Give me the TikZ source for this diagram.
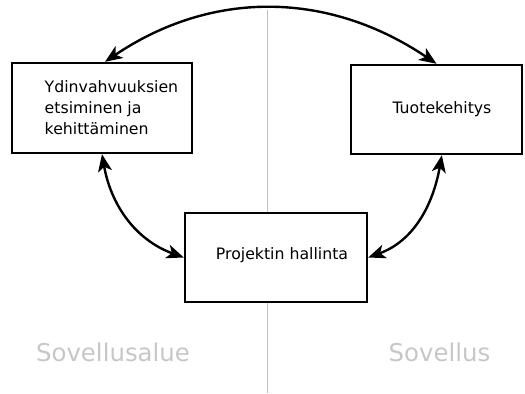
\documentclass[tikz,border=0pt]{standalone}
\usepackage{fontspec}
\setmainfont{DejaVu Sans}
\usetikzlibrary{arrows.meta}

\begin{document}
\begin{tikzpicture}[>={Stealth[length=13pt, width=10.5pt, inset=3.5pt]}, x=0.75pt, y=0.75pt,
  box/.style={draw, fill=white, line width=1.8pt, inner sep=0pt},
  link/.style={<->, line width=1.8pt},
  area/.style={text=black!22, font=\fontsize{18.3}{22}\selectfont}]
\fontsize{11.8}{15.8}\selectfont
\useasboundingbox (0,0) rectangle (525,393);
\draw[black!25, line width=0.75pt] (267,383) -- (267,0);
\node[box, minimum width=135pt, minimum height=67.5pt,
  label={[xshift=7.1pt, align=left]center:Ydinvahvuuksien\\etsiminen ja\\kehittäminen}]
  at (102,285) (YK) {};
\node[box, minimum width=128.25pt, minimum height=66.75pt,
  label={[xshift=4.1pt]center:Tuotekehitys}]
  at (436.5,283.5) (TK) {};
\node[box, minimum width=136.5pt, minimum height=66.75pt,
  label={[xshift=4.5pt, yshift=1.9pt]center:Projektin hallinta}]
  at (276,135.5) (PH) {};
\node[area] at (113,41) (SA) {Sovellusalue};
\node[area] at (439.5,41) (SO) {Sovellus};
\path ([xshift=2.25pt]YK.north) edge[link, out=34, in=146] (TK.north);
\path (YK.south) edge[link, out=-80, in=160] (PH.west);
\path ([xshift=4pt]TK.south) edge[link, out=-100, in=20] (PH.east);
\end{tikzpicture}
\end{document}
